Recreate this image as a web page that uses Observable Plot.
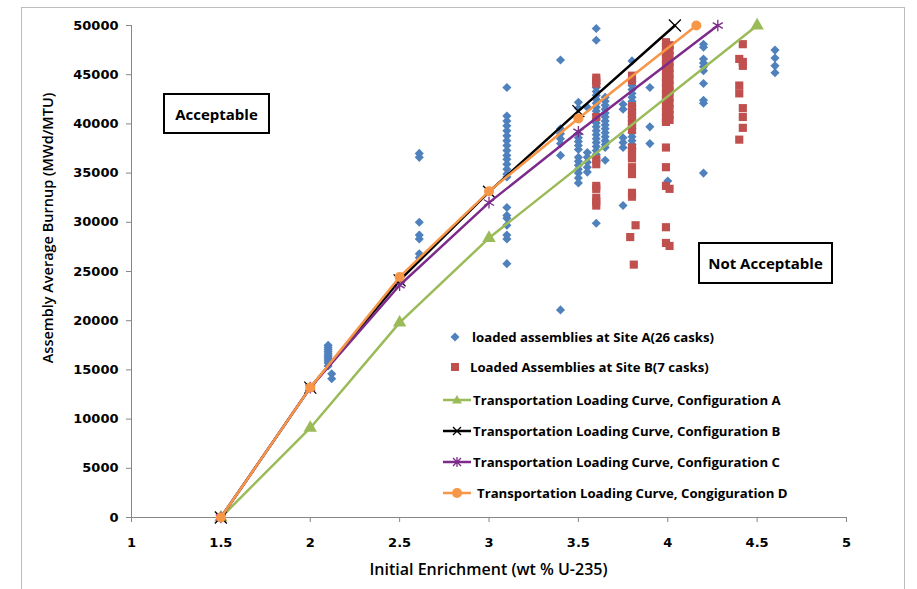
<!DOCTYPE html>
<html>
<head>
<meta charset="utf-8">
<script src="https://cdn.jsdelivr.net/npm/d3@7"></script>
<script src="https://cdn.jsdelivr.net/npm/@observablehq/plot@0.6"></script>
<style>
  html, body { margin: 0; padding: 0; background: #fff; }
  #wrap { position: relative; width: 917px; height: 589px; overflow: hidden; background: #fff; }
  #frame { position: absolute; left: 21px; top: 7px; width: 884px; height: 600px; border: 1px solid #bdbdbd; box-sizing: border-box; }
  .txt { position: absolute; font-family: "Open Sans", sans-serif; font-weight: 600; color: #000; white-space: nowrap; }
  .box { position: absolute; border: 2px solid #000; box-sizing: border-box; background: #fff; font-family: "Open Sans", sans-serif; font-weight: 700; font-size: 15px; display: flex; align-items: center; justify-content: center; }
  .leg { position: absolute; display: flex; align-items: center; font-family: "Open Sans", sans-serif; font-weight: 700; font-size: 13.2px; white-space: nowrap; }
  .leg svg { flex: none; }
</style>
</head>
<body>
<div id="wrap">
  <div id="frame"></div>
  <div id="chart"></div>
</div>
<script>
// ---------- data ----------
const xTicks = [1, 1.5, 2, 2.5, 3, 3.5, 4, 4.5, 5];
const yTicks = [0, 5000, 10000, 15000, 20000, 25000, 30000, 35000, 40000, 45000, 50000];

// Site A (blue diamonds): enrichment columns and burnups in each column
const siteAEnrichment = [2.10, 2.12, 2.61, 3.10, 3.40, 3.50, 3.55, 3.60, 3.65, 3.75, 3.80, 3.90, 4.00, 4.20, 4.60];
const siteABurnups = [
  [17500, 17300, 17100, 16900, 16700, 16500, 16300, 16100, 15900, 15700, 15400],
  [14600, 14100],
  [37000, 36600, 30000, 28700, 28300, 26800, 26400],
  [43700, 40800, 40300, 39800, 39300, 38800, 38300, 37800, 37300, 36800, 36400, 35900, 35400, 34900, 34600, 31500, 30700, 30400, 29700, 28700, 28300, 25800],
  [46500, 39500, 39000, 38500, 38000, 36800, 21100],
  [42200, 41600, 39000, 38600, 38200, 37800, 37400, 36600, 36200, 35800, 35400, 35000, 34500, 34000],
  [41700, 37100, 36600, 36100, 35600, 35100],
  [49700, 48500, 44100, 43700, 43300, 42900, 42500, 42100, 41700, 41300, 40900, 40500, 40100, 39700, 39300, 38900, 38500, 38100, 37700, 37300, 36900, 36500, 29900],
  [42700, 42300, 41900, 41500, 41100, 40700, 40300, 39900, 39500, 39100, 38700, 38300, 37900, 37600, 36300],
  [42000, 41500, 38600, 38100, 37600, 31700],
  [46400, 44300, 43900, 43500, 43100, 42700, 42300, 41900, 41500, 41100, 40700, 40300, 39900, 39500, 39100, 38700, 38300, 37900, 37500],
  [43700, 39700, 38000],
  [42700, 34200],
  [48100, 47800, 46600, 46200, 45800, 45400, 44100, 42400, 42100, 35000],
  [47500, 46700, 45900, 45200]
];

// Site B (red squares)
const siteBEnrichment = [3.60, 3.80, 3.82, 3.79, 3.81, 3.99, 4.01, 4.40, 4.42];
const siteBBurnups = [
  [44700, 44400, 44100, 40700, 36400, 35900, 33700, 33400, 32500, 32100, 31700],
  [44900, 44400, 41800, 41400, 41000, 40600, 40200, 39800, 39400, 37600, 37200, 36800, 36500, 35600, 34900, 33000, 32600],
  [29700],
  [28500],
  [25700],
  [48300, 47800, 47200, 46600, 46000, 45400, 44800, 44200, 43600, 43000, 42400, 41800, 41200, 40600, 40200, 37600, 35600, 33700, 29500, 27900],
  [48000, 47500, 46900, 46300, 45700, 45100, 44500, 43900, 43300, 42700, 42100, 41500, 40900, 40400, 33400, 27600],
  [46600, 43900, 43100, 38400],
  [48100, 46300, 45900, 41600, 40700, 39600]
];

// Transportation loading curves
const configAEnrichment = [1.5, 2, 2.5, 3, 4.5];
const configABurnup     = [0, 9100, 19800, 28400, 50000];
const configBEnrichment = [1.5, 2, 2.5, 3, 3.5, 4.04];
const configBBurnup     = [0, 13200, 24100, 33100, 41300, 50000];
const configCEnrichment = [1.5, 2, 2.5, 3, 3.5, 4.28];
const configCBurnup     = [0, 13200, 23600, 32000, 39200, 50000];
const configDEnrichment = [1.5, 2, 2.5, 3, 3.5, 4.16];
const configDBurnup     = [0, 13200, 24450, 33150, 40550, 50000];

const legendLabels = [
  "loaded assemblies at Site A(26 casks)",
  "Loaded Assemblies at Site B(7 casks)",
  "Transportation Loading Curve, Configuration A",
  "Transportation Loading Curve, Configuration B",
  "Transportation Loading Curve, Configuration C",
  "Transportation Loading Curve, Congiguration D"
];
const xTitle = "Initial Enrichment (wt % U-235)";
const yTitle = "Assembly Average Burnup (MWd/MTU)";

// ---------- build tables ----------
const flatten = (xs, ys) => xs.flatMap((x, i) => ys[i].map(y => ({x, y})));
const siteA = flatten(siteAEnrichment, siteABurnups);
const siteB = flatten(siteBEnrichment, siteBBurnups);
const pair = (xs, ys) => xs.map((x, i) => ({x, y: ys[i]}));
const cfgA = pair(configAEnrichment, configABurnup);
const cfgB = pair(configBEnrichment, configBBurnup);
const cfgC = pair(configCEnrichment, configCBurnup);
const cfgD = pair(configDEnrichment, configDBurnup);

const BLUE = "#4f81bd", RED = "#c0504d", GREEN = "#9bbb59", BLACK = "#000000", PURPLE = "#7d2b8b", ORANGE = "#f79646";
const AXIS = "#878787";

const chart = Plot.plot({
  width: 917,
  height: 589,
  marginLeft: 131,
  marginRight: 71,
  marginTop: 25,
  marginBottom: 72,
  x: {domain: [1, 5]},
  y: {domain: [0, 50000]},
  style: {fontFamily: "'DejaVu Sans', sans-serif", fontWeight: "bold", fontSize: "13px", color: "#000", background: "transparent", overflow: "visible"},
  marks: [
    Plot.axisX({ticks: xTicks, tickSize: 5, tickPadding: 15, tickFormat: d => String(d), label: null, stroke: AXIS, fill: "#000"}),
    Plot.axisY({ticks: yTicks, tickSize: 5, tickPadding: 8, tickFormat: d => String(d), label: null, stroke: AXIS, fill: "#000"}),
    Plot.ruleY([0], {stroke: AXIS, strokeWidth: 1}),
    Plot.ruleX([1], {stroke: AXIS, strokeWidth: 1}),
    Plot.dot(siteA, {x: "x", y: "y", symbol: "diamond2", r: 4.1, fill: BLUE, stroke: "none"}),
    Plot.dot(siteB, {x: "x", y: "y", symbol: "square", r: 4.6, fill: RED, stroke: "none"}),
    Plot.line(cfgA, {x: "x", y: "y", stroke: GREEN, strokeWidth: 2.5}),
    Plot.dot(cfgA, {x: "x", y: "y", symbol: "triangle", r: 5, fill: GREEN, stroke: "none"}),
    Plot.line(cfgB, {x: "x", y: "y", stroke: BLACK, strokeWidth: 2.5}),
    Plot.dot(cfgB, {x: "x", y: "y", symbol: "times", r: 5.5, stroke: BLACK, strokeWidth: 1.3}),
    Plot.line(cfgC, {x: "x", y: "y", stroke: PURPLE, strokeWidth: 2.5}),
    Plot.dot(cfgC, {x: "x", y: "y", symbol: "asterisk", r: 5.5, stroke: PURPLE, strokeWidth: 1.3}),
    Plot.line(cfgD, {x: "x", y: "y", stroke: ORANGE, strokeWidth: 2.5}),
    Plot.dot(cfgD, {x: "x", y: "y", symbol: "circle", r: 5, fill: ORANGE, stroke: "none"})
  ]
});
chart.style.position = "absolute";
chart.style.left = "0px";
chart.style.top = "0px";
document.getElementById("chart").appendChild(chart);

const wrap = document.getElementById("wrap");
function addDiv(cls, css, text) {
  const d = document.createElement("div");
  d.className = cls;
  d.style.cssText = css;
  if (text != null) d.textContent = text;
  wrap.appendChild(d);
  return d;
}
// axis titles
addDiv("txt", "left:131px;width:715px;top:558px;text-align:center;font-size:16px;", xTitle);
addDiv("txt", "left:47px;top:228px;font-size:14.5px;transform:translate(-50%,-50%) rotate(-90deg);", yTitle);

// annotation boxes
addDiv("box", "left:163px;top:93px;width:107px;height:41px;", "Acceptable");
addDiv("box", "left:698px;top:242px;width:135px;height:42px;", "Not Acceptable");

// legend
const NS = "http://www.w3.org/2000/svg";
function swatch(kind) {
  const s = document.createElementNS(NS, "svg");
  s.setAttribute("width", 30); s.setAttribute("height", 14);
  let html = "";
  if (kind === "A") html = `<path d="M15,2.5 L19.5,7 L15,11.5 L10.5,7Z" fill="${BLUE}"/>`;
  else if (kind === "B") html = `<rect x="11" y="3" width="8" height="8" fill="${RED}"/>`;
  else {
    const col = {G: GREEN, K: BLACK, P: PURPLE, O: ORANGE}[kind];
    html = `<line x1="1" y1="7" x2="29" y2="7" stroke="${col}" stroke-width="2.5"/>`;
    if (kind === "G") html += `<path d="M15,2 L20,10.5 L10,10.5Z" fill="${col}"/>`;
    if (kind === "K") html += `<path d="M11,3 L19,11 M19,3 L11,11" stroke="${col}" stroke-width="1.3"/>`;
    if (kind === "P") html += `<path d="M11,3 L19,11 M19,3 L11,11 M15,2 L15,12" stroke="${col}" stroke-width="1.3"/>`;
    if (kind === "O") html += `<circle cx="15" cy="7" r="5" fill="${col}"/>`;
  }
  s.innerHTML = html;
  return s;
}
const legendRows = [
  {kind: "A", left: 440, top: 337, gap: 2},
  {kind: "B", left: 440, top: 367, gap: 0},
  {kind: "G", left: 442, top: 400, gap: 1},
  {kind: "K", left: 442, top: 431, gap: 1},
  {kind: "P", left: 442, top: 462, gap: 1},
  {kind: "O", left: 442, top: 493, gap: 5}
];
legendRows.forEach((r, i) => {
  const d = addDiv("leg", `left:${r.left}px;top:${r.top - 10}px;height:20px;`);
  d.appendChild(swatch(r.kind));
  const t = document.createElement("span");
  t.style.marginLeft = r.gap + "px";
  t.textContent = legendLabels[i];
  d.appendChild(t);
});
</script>
</body>
</html>
